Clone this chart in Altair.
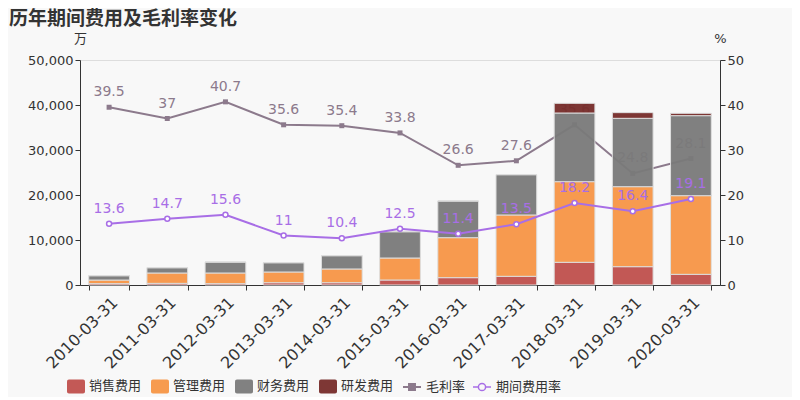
import altair as alt
import pandas as pd

years = ["2010-03-31", "2011-03-31", "2012-03-31", "2013-03-31", "2014-03-31", "2015-03-31",
         "2016-03-31", "2017-03-31", "2018-03-31", "2019-03-31", "2020-03-31"]
sales = [300, 370, 300, 510, 510, 1110, 1630, 1930, 5040, 4070, 2370]
admin = [800, 2300, 2370, 2380, 3050, 4890, 8890, 13630, 17920, 17780, 17480]
finance = [970, 1180, 2430, 2070, 2960, 5850, 8150, 8960, 15260, 15190, 17780]
rnd = [0, 0, 0, 0, 0, 0, 0, 0, 2150, 1260, 520]
margin = [39.5, 37, 40.7, 35.6, 35.4, 33.8, 26.6, 27.6, 35.6, 24.8, 28.1]
rate = [13.6, 14.7, 15.6, 11, 10.4, 12.5, 11.4, 13.5, 18.2, 16.4, 19.1]

cats = ["销售费用", "管理费用", "财务费用", "研发费用"]
cat_colors = ["#c0504d", "#f79646", "#7a7a7a", "#772c2a"]
series = [sales, admin, finance, rnd]

rows = []
for ci, (c, s) in enumerate(zip(cats, series)):
    for y, v in zip(years, s):
        rows.append({"year": y, "cat": c, "value": v, "ord": ci})
bar_df = pd.DataFrame(rows)

def fmt(v):
    return str(int(v)) if float(v).is_integer() else str(v)

m_df = pd.DataFrame({"year": years, "v": margin, "lbl": [fmt(v) for v in margin], "name": "毛利率"})
r_df = pd.DataFrame({"year": years, "v": rate, "lbl": [fmt(v) for v in rate], "name": "期间费用率"})

FONT = "DejaVu Sans, Noto Sans CJK SC"
MCOL = "#8c7a8c"
RCOL = "#a86ee6"

xenc = alt.X("year:N", sort=years,
             scale=alt.Scale(paddingInner=0.3, paddingOuter=0.15),
             axis=alt.Axis(title=None, labelAngle=-45, labelFontSize=16, labelColor="#333",
                           tickBand="extent", domainColor="#333", tickColor="#333",
                           tickSize=5, labelPadding=4))

rect_path = ("M-0.78,-0.78H0.78A0.22,0.22 0 0 1 1,-0.56V0.56A0.22,0.22 0 0 1 0.78,0.78"
             "H-0.78A0.22,0.22 0 0 1 -1,0.56V-0.56A0.22,0.22 0 0 1 -0.78,-0.78Z")

bars = alt.Chart(bar_df).mark_bar(opacity=0.95, stroke="#dddddd", strokeWidth=1).encode(
    x=xenc,
    y=alt.Y("value:Q", stack="zero",
            scale=alt.Scale(domain=[0, 50000]),
            axis=alt.Axis(orient="left", title="万", titleAngle=0, titleX=0, titleY=-22,
                          titleAlign="center", titleBaseline="middle", titleFontSize=13,
                          titleFontWeight="normal", titleColor="#333",
                          format=",d", values=[0, 10000, 20000, 30000, 40000, 50000],
                          grid=False, labelFontSize=13, labelColor="#333",
                          domainColor="#333", tickColor="#333", tickSize=5)),
    color=alt.Color("cat:N", scale=alt.Scale(domain=cats, range=cat_colors),
                    legend=alt.Legend(title=None, orient="none", legendX=-13, legendY=317,
                                      direction="horizontal", symbolType=rect_path,
                                      symbolSize=324, symbolStrokeWidth=0,
                                      labelFontSize=13, labelColor="#333", labelOffset=4,
                                      columnPadding=9)),
    order=alt.Order("ord:Q"),
)

m_y = alt.Y("v:Q", scale=alt.Scale(domain=[0, 50]),
            axis=alt.Axis(orient="right", title="%", titleAngle=0, titleX=0, titleY=-22,
                          titleAlign="center", titleBaseline="middle", titleFontSize=13,
                          titleFontWeight="normal", titleColor="#333", format="d",
                          values=[0, 10, 20, 30, 40, 50], grid=False, labelFontSize=13,
                          labelColor="#333", domainColor="#333", tickColor="#333", tickSize=5))

m_line = alt.Chart(m_df).mark_line(strokeWidth=2).encode(
    x=xenc, y=m_y,
    color=alt.Color("name:N", scale=alt.Scale(domain=["毛利率"], range=[MCOL]),
                    legend=alt.Legend(title=None, orient="none", legendX=322, legendY=317,
                                      symbolType="M-1,0H1M-0.33,-0.33H0.33V0.33H-0.33Z",
                                      symbolSize=324, symbolStrokeWidth=2,
                                      symbolFillColor=MCOL,
                                      labelFontSize=13, labelColor="#333", labelOffset=4)),
)
m_pts = alt.Chart(m_df).mark_square(size=25, opacity=1, color=MCOL).encode(x=xenc, y=m_y)
m_txt = alt.Chart(m_df).mark_text(dy=-15, fontSize=14, color=MCOL, font=FONT).encode(
    x=xenc, y=m_y, text="lbl:N")
m_group = alt.layer(m_line, m_pts, m_txt)

r_y = alt.Y("v:Q", scale=alt.Scale(domain=[0, 50]), axis=None)
r_line = alt.Chart(r_df).mark_line(strokeWidth=2).encode(
    x=xenc, y=r_y,
    color=alt.Color("name:N", scale=alt.Scale(domain=["期间费用率"], range=[RCOL]),
                    legend=alt.Legend(title=None, orient="none", legendX=392, legendY=317,
                                      symbolType="M-1,0H-0.4M0.4,0H1M-0.4,0A0.4,0.4 0 1 1 0.4,0A0.4,0.4 0 1 1 -0.4,0",
                                      symbolSize=324, symbolStrokeWidth=1.5,
                                      labelFontSize=13, labelColor="#333", labelOffset=4)),
)
r_pts = alt.Chart(r_df).mark_point(shape="circle", size=25, filled=True, fill="white",
                                   stroke=RCOL, strokeWidth=1.5, opacity=1).encode(x=xenc, y=r_y)
r_txt = alt.Chart(r_df).mark_text(dy=-15, fontSize=14, color=RCOL, font=FONT).encode(
    x=xenc, y=r_y, text="lbl:N")
r_group = alt.layer(r_line, r_pts, r_txt)

chart = alt.layer(m_group, bars, r_group).resolve_scale(
    y="independent", color="independent"
).properties(
    width=640, height=225,
    autosize=alt.AutoSizeParams(type="none"),
    padding={"left": 72, "top": 52, "right": 72, "bottom": 112},
    background="#f8f8f8",
    title=alt.TitleParams("历年期间费用及毛利率变化", anchor="start", fontSize=19,
                          fontWeight="bold", color="#333", dx=-71, frame="group",
                          offset=3, font=FONT),
).configure_view(stroke=None).configure(font=FONT)

chart.save("out.html", embed_options={"renderer": "svg", "actions": False})
